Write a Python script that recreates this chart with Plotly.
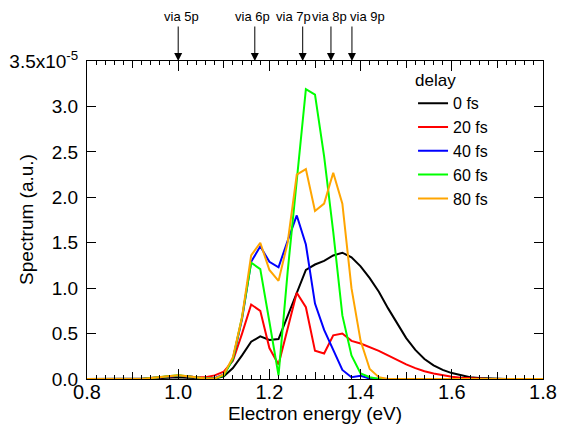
import plotly.graph_objects as go

# Electron energy grid (eV)
energy = [round(0.80 + 0.02 * i, 2) for i in range(51)]

# Spectra in units of 1e-5 (a.u.)
zeros7 = [0.0] * 7  # 0.80 .. 0.92
black = zeros7 + [0.005, 0.01, 0.015, 0.02, 0.015, 0.01, 0.005, 0.005, 0.03, 0.12, 0.26,
                  0.41, 0.47, 0.43, 0.44, 0.69, 0.96, 1.20, 1.26, 1.30, 1.36, 1.39,
                  1.34, 1.24, 1.11, 0.96, 0.78, 0.61, 0.45, 0.32, 0.22, 0.15, 0.10,
                  0.065, 0.04, 0.02, 0.01, 0.005, 0.0, 0.0, 0.0, 0.0, 0.0, 0.0, 0.0, 0.0]
red = zeros7 + [0.01, 0.02, 0.03, 0.035, 0.03, 0.02, 0.02, 0.04, 0.08, 0.20, 0.50,
                0.82, 0.75, 0.34, 0.16, 0.57, 0.95, 0.79, 0.31, 0.28, 0.48, 0.50,
                0.42, 0.39, 0.35, 0.31, 0.26, 0.21, 0.16, 0.12, 0.085, 0.06, 0.04,
                0.025, 0.015, 0.008, 0.004, 0.0, 0.0, 0.0, 0.0, 0.0, 0.0, 0.0, 0.0, 0.0]
blue = zeros7 + [0.01, 0.02, 0.03, 0.035, 0.03, 0.015, 0.005, 0.01, 0.05, 0.22, 0.66,
                 1.29, 1.46, 1.29, 1.23, 1.52, 1.80, 1.48, 0.83, 0.54, 0.32, 0.10,
                 0.02, 0.035, 0.005, 0.0, 0.0, 0.0, 0.0, 0.0, 0.0, 0.0, 0.0,
                 0.0, 0.0, 0.0, 0.0, 0.0, 0.0, 0.0, 0.0, 0.0, 0.0, 0.0, 0.0, 0.0]
green = zeros7 + [0.01, 0.02, 0.03, 0.04, 0.03, 0.015, 0.005, 0.005, 0.04, 0.22, 0.68,
                  1.28, 1.21, 0.63, 0.04, 1.18, 2.18, 3.19, 3.13, 2.45, 1.62, 0.70,
                  0.26, 0.06, 0.02, 0.0, 0.0, 0.0, 0.0, 0.0, 0.0, 0.0, 0.0,
                  0.0, 0.0, 0.0, 0.0, 0.0, 0.0, 0.0, 0.0, 0.0, 0.0, 0.0, 0.0, 0.0]
orange = zeros7 + [0.01, 0.02, 0.03, 0.04, 0.03, 0.015, 0.005, 0.005, 0.05, 0.24, 0.68,
                   1.36, 1.50, 1.20, 1.08, 1.50, 2.25, 2.31, 1.85, 1.93, 2.27, 1.93,
                   1.00, 0.42, 0.11, 0.02, 0.0, 0.0, 0.0, 0.0, 0.0, 0.0, 0.0,
                   0.0, 0.0, 0.0, 0.0, 0.0, 0.0, 0.0, 0.0, 0.0, 0.0, 0.0, 0.0, 0.0]

series_names = ["0 fs", "20 fs", "40 fs", "60 fs", "80 fs"]
series_values = [black, red, blue, green, orange]
series_colors = ["#000000", "#ff0000", "#0000ff", "#00ff00", "#ffa500"]

# Arrow markers (energy positions of intermediate states)
via_labels = ["via 5p", "via 6p", "via 7p", "via 8p", "via 9p"]
via_energy = [1.00, 1.168, 1.273, 1.335, 1.381]
via_label_shift = [3, -2, -9, -1, 16]   # horizontal nudge of labels (px)

ytick_vals = [0.0, 0.5, 1.0, 1.5, 2.0, 2.5, 3.0, 3.5]
ytick_text = ["0.0", "0.5", "1.0", "1.5", "2.0", "2.5", "3.0", "3.5x10<sup>-5</sup>"]

FONT = "Liberation Sans, Arial, Helvetica, sans-serif"

fig = go.Figure()
for name, vals, col in zip(series_names, series_values, series_colors):
    fig.add_trace(go.Scatter(x=energy, y=vals, mode="lines", name=name,
                             line=dict(color=col, width=2)))

# invisible helper trace for the medium-tick overlay axis
fig.add_trace(go.Scatter(x=[energy[0]], y=[0], xaxis="x2", mode="none",
                         showlegend=False, hoverinfo="skip"))

for lab, e, dx in zip(via_labels, via_energy, via_label_shift):
    fig.add_annotation(x=e, y=1, xref="x", yref="paper", text="",
                       showarrow=True, ax=0, ay=-36, arrowhead=2, arrowsize=1.6,
                       arrowwidth=1, arrowcolor="black")
    fig.add_annotation(x=e, y=1, xref="x", yref="paper", text=lab,
                       showarrow=False, xshift=dx, yshift=45,
                       xanchor="center", yanchor="middle",
                       font=dict(size=13, color="black", family=FONT))

# y-axis title placed as annotation so it sits close to the axis
fig.add_annotation(x=0, y=0.5, xref="paper", yref="paper", text="Spectrum (a.u.)",
                   showarrow=False, textangle=-90, xshift=-61,
                   xanchor="center", yanchor="middle",
                   font=dict(size=19, color="black", family=FONT))

fig.update_layout(
    width=566, height=432,
    margin=dict(l=87, r=23, t=61, b=53),
    plot_bgcolor="white", paper_bgcolor="white",
    font=dict(family=FONT, size=19, color="black"),
    showlegend=True,
    legend=dict(x=0.715, y=0.99, xanchor="left", yanchor="top",
                bgcolor="rgba(0,0,0,0)", font=dict(size=16),
                title=dict(text="delay", font=dict(size=17)),
                tracegroupgap=0),
    xaxis=dict(range=[0.8, 1.8], tick0=0.8, dtick=0.2, tickformat=".1f",
               ticks="inside", ticklen=10, tickwidth=1, tickcolor="black",
               showline=True, linecolor="black", linewidth=1, mirror="ticks",
               showgrid=False, zeroline=False, tickfont=dict(size=20),
               automargin=False, ticklabelstandoff=-5,
               minor=dict(dtick=0.02, tick0=0.8, ticks="inside", ticklen=4,
                          tickcolor="black", tickwidth=1, showgrid=False),
               title=dict(text="Electron energy (eV)", font=dict(size=19), standoff=2)),
    xaxis2=dict(range=[0.8, 1.8], overlaying="x", anchor="y", side="bottom",
                tick0=0.8, dtick=0.1, ticks="inside", ticklen=7, tickwidth=1,
                tickcolor="black", showticklabels=False, showline=True,
                linecolor="black", linewidth=1, mirror="ticks", automargin=False,
                showgrid=False, zeroline=False),
    yaxis=dict(range=[0, 3.5], tickvals=ytick_vals, ticktext=ytick_text,
               ticks="inside", ticklen=9, tickwidth=1, tickcolor="black",
               showline=True, linecolor="black", linewidth=1, mirror="ticks",
               showgrid=False, zeroline=False, ticklabelstandoff=4,
               automargin=False, tickfont=dict(size=19)),
)

fig.write_html("out.html")
